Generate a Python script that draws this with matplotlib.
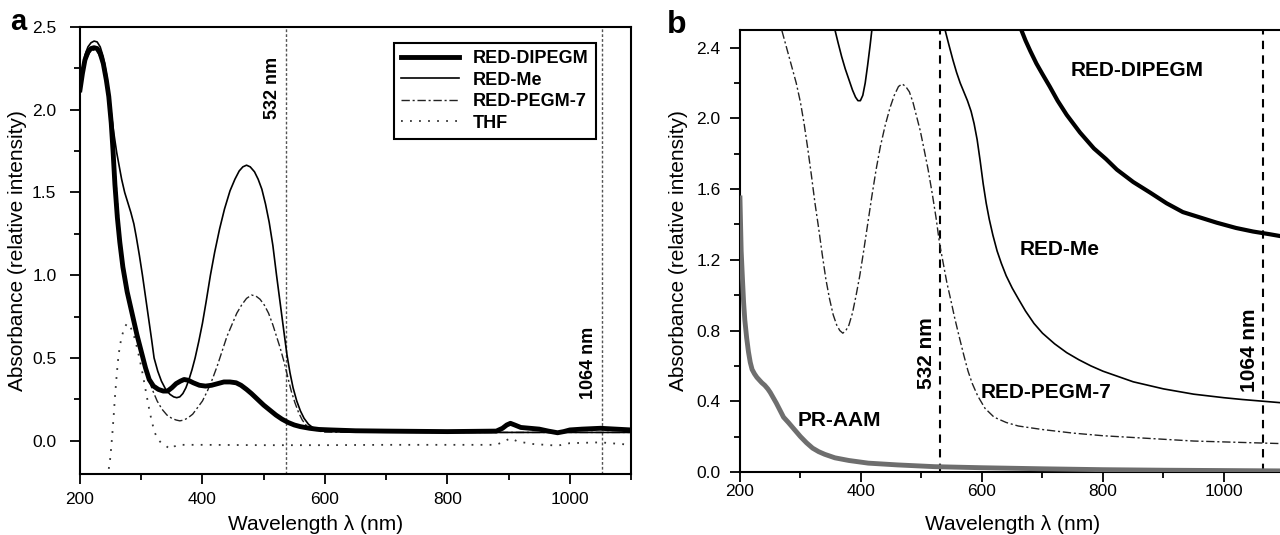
import numpy as np
import matplotlib
matplotlib.use('Agg')
import matplotlib.pyplot as plt
from matplotlib.ticker import MultipleLocator

plt.rcParams['font.family'] = ['Liberation Sans', 'DejaVu Sans']

# ---- panel a data (wavelength nm, absorbance) ----
a_dip_x = [200, 204, 208, 213, 218, 223, 228, 233, 238, 243, 247, 251, 254, 257, 261, 265, 270, 277,
           285, 293, 300, 307, 313, 320, 328, 336, 343, 350, 357, 364, 370, 377, 385, 395, 405, 415,
           425, 435, 445, 455, 463, 472, 480, 490, 500, 510, 520, 530, 540, 550, 560, 575, 590, 610,
           650, 700, 800, 880, 890, 897, 903, 910, 920, 935, 950, 965, 980, 990, 1000, 1020, 1050,
           1075, 1100]
a_dip_y = [2.12, 2.22, 2.30, 2.35, 2.37, 2.375, 2.37, 2.34, 2.28, 2.18, 2.08, 1.92, 1.75, 1.55, 1.35,
           1.2, 1.05, 0.9, 0.77, 0.64, 0.54, 0.44, 0.37, 0.33, 0.31, 0.30, 0.30, 0.32, 0.345, 0.36,
           0.37, 0.365, 0.35, 0.335, 0.33, 0.335, 0.345, 0.355, 0.355, 0.35, 0.335, 0.31, 0.285, 0.25,
           0.215, 0.185, 0.155, 0.13, 0.11, 0.095, 0.085, 0.075, 0.068, 0.065, 0.06, 0.058, 0.055,
           0.058, 0.075, 0.095, 0.105, 0.095, 0.08, 0.075, 0.07, 0.058, 0.048, 0.055, 0.065, 0.07,
           0.075, 0.07, 0.065]

a_me_x = [200, 204, 208, 213, 218, 223, 228, 233, 238, 243, 248, 252, 256, 260, 264, 268, 273, 278,
          283, 288, 292, 297, 302, 307, 312, 317, 321, 327, 333, 340, 347, 353, 358, 363, 368, 373,
          378, 383, 388, 394, 400, 406, 413, 420, 428, 436, 445, 453, 460, 466, 472, 478, 485, 491,
          497, 503, 509, 515, 521, 527, 533, 538, 543, 548, 554, 560, 566, 573, 580, 590, 600, 650,
          800, 1100]
a_me_y = [2.14, 2.25, 2.33, 2.38, 2.405, 2.415, 2.41, 2.38, 2.32, 2.22, 2.08, 1.95, 1.84, 1.74, 1.66,
          1.58, 1.5, 1.44, 1.38, 1.31, 1.23, 1.12, 1.0, 0.87, 0.74, 0.61, 0.5, 0.42, 0.36, 0.31, 0.28,
          0.265, 0.26, 0.265, 0.285, 0.32, 0.37, 0.43, 0.5, 0.6, 0.71, 0.84, 1.0, 1.14, 1.28, 1.4,
          1.51, 1.58, 1.63, 1.655, 1.665, 1.655, 1.625, 1.58, 1.52, 1.43, 1.32, 1.18, 1.0, 0.83, 0.66,
          0.52, 0.41, 0.32, 0.24, 0.18, 0.135, 0.1, 0.08, 0.065, 0.058, 0.052, 0.05, 0.05]

a_pegm_x = [200, 208, 218, 228, 238, 246, 252, 258, 264, 270, 278, 286, 294, 302, 310, 318, 326, 334,
            342, 350, 357, 363, 370, 377, 384, 392, 400, 408, 416, 424, 432, 440, 448, 456, 464, 472,
            480, 487, 494, 501, 508, 515, 521, 527, 533, 539, 545, 551, 557, 563, 570, 578, 590, 600,
            800, 1100]
a_pegm_y = [2.12, 2.29, 2.36, 2.36, 2.27, 2.1, 1.9, 1.6, 1.3, 1.06, 0.88, 0.74, 0.62, 0.5, 0.4, 0.31,
            0.24, 0.19, 0.155, 0.135, 0.125, 0.12, 0.125, 0.14, 0.16, 0.2, 0.24, 0.3, 0.37, 0.45,
            0.54, 0.63, 0.7, 0.77, 0.82, 0.86, 0.88, 0.875, 0.855, 0.82, 0.77, 0.7, 0.63, 0.56, 0.48,
            0.39, 0.3, 0.23, 0.17, 0.125, 0.09, 0.07, 0.058, 0.052, 0.05, 0.05]

a_thf_x = [247, 249, 251, 253, 255, 257, 260, 263, 267, 272, 277, 282, 287, 292, 297, 302, 307, 312,
           317, 322, 327, 333, 340, 345, 349, 354, 360, 400, 500, 600, 700, 800, 880, 895, 903, 915,
           940, 960, 980, 1000, 1050, 1100]
a_thf_y = [-0.17, -0.12, -0.04, 0.05, 0.15, 0.26, 0.4, 0.52, 0.61, 0.68, 0.71, 0.69, 0.65, 0.58, 0.5,
           0.41, 0.31, 0.21, 0.12, 0.05, 0.01, -0.015, -0.03, -0.045, -0.05, -0.035, -0.025, -0.025,
           -0.027, -0.027, -0.025, -0.025, -0.025, 0.0, 0.015, -0.005, -0.02, -0.025, -0.03, -0.015,
           -0.01, -0.025]

a_lines = [536, 1053]

# ---- panel b data ----
b_me_x = [352, 357, 362, 368, 374, 380, 386, 391, 395, 399, 403, 407, 411, 415, 418, 421, 532, 539,
          545, 552, 558, 564, 570, 576, 582, 587, 592, 597, 602, 607, 612, 618, 625, 632, 640, 650,
          660, 672, 686, 700, 720, 740, 760, 780, 800, 825, 850, 875, 900, 925, 950, 975, 1000, 1030,
          1065, 1100]
b_me_y = [2.7, 2.5, 2.43, 2.35, 2.28, 2.22, 2.16, 2.12, 2.10, 2.10, 2.13, 2.2, 2.3, 2.41, 2.5, 2.7,
          2.7, 2.5, 2.42, 2.33, 2.26, 2.2, 2.15, 2.1, 2.04, 1.97, 1.88, 1.76, 1.63, 1.52, 1.43, 1.34,
          1.25, 1.18, 1.11, 1.04, 0.98, 0.91, 0.84, 0.785, 0.725, 0.675, 0.635, 0.6, 0.57, 0.54, 0.51,
          0.49, 0.47, 0.455, 0.44, 0.43, 0.42, 0.41, 0.4, 0.39]

b_pegm_x = [262, 269, 277, 285, 293, 300, 306, 312, 318, 324, 330, 336, 342, 348, 354, 360, 365, 370,
            375, 380, 386, 392, 398, 404, 411, 418, 425, 432, 440, 448, 455, 462, 468, 474, 480, 486,
            492, 498, 504, 511, 518, 524, 530, 536, 542, 548, 555, 562, 570, 577, 584, 593, 605, 620,
            640, 660, 700, 750, 800, 850, 900, 950, 1000, 1050, 1100]
b_pegm_y = [2.7, 2.5, 2.4, 2.3, 2.2, 2.09, 1.97, 1.83, 1.68, 1.52, 1.38, 1.23, 1.09, 0.98, 0.89, 0.83,
            0.8, 0.785, 0.8, 0.83, 0.9, 1.0, 1.11, 1.24, 1.4, 1.56, 1.71, 1.84, 1.96, 2.06, 2.13, 2.18,
            2.195, 2.18, 2.15, 2.09, 2.01, 1.93, 1.83, 1.71, 1.57, 1.44, 1.29, 1.18, 1.07, 0.98, 0.87,
            0.77, 0.66, 0.57, 0.5, 0.43, 0.36, 0.31, 0.28, 0.26, 0.24, 0.22, 0.205, 0.195, 0.185,
            0.175, 0.17, 0.165, 0.16]

b_dip_x = [660, 665, 672, 680, 690, 700, 712, 725, 740, 762, 785, 805, 823, 850, 878, 905, 932, 960,
           988, 1020, 1048, 1075, 1100]
b_dip_y = [2.55, 2.5, 2.44, 2.38, 2.31, 2.25, 2.18, 2.1, 2.02, 1.92, 1.83, 1.77, 1.71, 1.64, 1.58,
           1.52, 1.47, 1.44, 1.41, 1.38, 1.36, 1.345, 1.33]

b_aam_x = [200, 201, 202, 204, 206, 208, 211, 214, 217, 220, 224, 228, 232, 236, 241, 246, 250, 255,
           260, 266, 272, 280, 290, 300, 310, 320, 330, 340, 357, 380, 412, 460, 522, 600, 700, 800,
           900, 1000, 1100]
b_aam_y = [1.55, 1.4, 1.25, 1.1, 0.96, 0.86, 0.76, 0.68, 0.62, 0.58, 0.555, 0.535, 0.52, 0.505, 0.49,
           0.47, 0.45, 0.42, 0.39, 0.35, 0.31, 0.28, 0.24, 0.2, 0.165, 0.135, 0.115, 0.1, 0.08, 0.065,
           0.05, 0.04, 0.03, 0.024, 0.018, 0.013, 0.01, 0.008, 0.006]

b_lines = [530, 1065]

fig = plt.figure(figsize=(12.8, 5.35), dpi=100)

# ---------------- panel a ----------------
ax = fig.add_axes([0.0625, 0.1144, 0.4305, 0.8351])
for xv in a_lines:
    ax.axvline(xv, color='#555555', lw=1, ls=(0, (2, 1.5)), zorder=1)
ax.plot(a_thf_x, a_thf_y, color='#333333', lw=1.3, ls=(0, (1, 4)), label='THF', zorder=2)
ax.plot(a_pegm_x, a_pegm_y, color='#222222', lw=1, ls=(0, (6, 2, 1.5, 2)), label='RED-PEGM-7', zorder=3)
ax.plot(a_me_x, a_me_y, color='black', lw=1.2, label='RED-Me', zorder=3)
ax.plot(a_dip_x, a_dip_y, color='black', lw=3.5, label='RED-DIPEGM', zorder=4)

ax.set_xlim(200, 1100)
ax.set_ylim(-0.2, 2.5)
ax.xaxis.set_major_locator(MultipleLocator(200))
ax.xaxis.set_minor_locator(MultipleLocator(100))
ax.yaxis.set_major_locator(MultipleLocator(0.5))
ax.yaxis.set_minor_locator(MultipleLocator(0.25))
ax.yaxis.set_major_formatter(plt.FormatStrFormatter('%.1f'))
ax.tick_params(direction='out', length=7, width=1.3, labelsize=12.5)
ax.tick_params(axis='y', pad=10)
ax.tick_params(axis='x', pad=6)
ax.tick_params(which='minor', direction='out', length=4, width=1.3)
for s in ax.spines.values():
    s.set_linewidth(1.5)
ax.set_xlabel('Wavelength λ (nm)', fontsize=15)
ax.set_ylabel('Absorbance (relative intensity)', fontsize=15)
ax.xaxis.set_label_coords(0.428, -0.092)
ax.yaxis.set_label_coords(-0.096, 0.5)

ax.text(515, 2.13, '532 nm', rotation=90, ha='center', va='center', fontsize=13, fontweight='bold')
ax.text(1030, 0.47, '1064 nm', rotation=90, ha='center', va='center', fontsize=13, fontweight='bold')

h, l = ax.get_legend_handles_labels()
order = [3, 2, 1, 0]
leg = ax.legend([h[i] for i in order], [l[i] for i in order], loc='upper right',
                bbox_to_anchor=(0.9365, 0.9642), borderaxespad=0, fancybox=False,
                framealpha=1, edgecolor='black', handlelength=3.2, labelspacing=0.25,
                prop={'weight': 'bold', 'size': 13})
leg.get_frame().set_linewidth(1.5)

fig.text(0.014, 0.959, 'a', fontsize=21, fontweight='bold', ha='center', va='center')

# ---------------- panel b ----------------
bx = fig.add_axes([0.5781, 0.1178, 0.4254, 0.8262])
for xv in b_lines:
    bx.axvline(xv, color='black', lw=1.5, ls=(0, (4, 3)), zorder=1)
bx.plot(b_aam_x, b_aam_y, color='#6e6e6e', lw=3.5, zorder=3)
bx.plot(b_pegm_x, b_pegm_y, color='#222222', lw=1, ls=(0, (6, 2, 1.5, 2)), zorder=3)
bx.plot(b_me_x, b_me_y, color='black', lw=1.2, zorder=3)
bx.plot(b_dip_x, b_dip_y, color='black', lw=3, zorder=4)

bx.set_xlim(200, 1100)
bx.set_ylim(0, 2.5)
bx.xaxis.set_major_locator(MultipleLocator(200))
bx.xaxis.set_minor_locator(MultipleLocator(100))
bx.yaxis.set_major_locator(MultipleLocator(0.4))
bx.yaxis.set_minor_locator(MultipleLocator(0.2))
bx.yaxis.set_major_formatter(plt.FormatStrFormatter('%.1f'))
bx.tick_params(direction='out', length=7, width=1.3, labelsize=12.5)
bx.tick_params(axis='y', pad=7)
bx.tick_params(axis='x', pad=2)
bx.tick_params(which='minor', direction='out', length=4, width=1.3)
for s in bx.spines.values():
    s.set_linewidth(1.5)
bx.set_xlabel('Wavelength λ (nm)', fontsize=15)
bx.set_ylabel('Absorbance (relative intensity)', fontsize=15)
bx.xaxis.set_label_coords(0.5, -0.097)
bx.yaxis.set_label_coords(-0.0955, 0.5)

bx.text(509, 0.67, '532 nm', rotation=90, ha='center', va='center', fontsize=15, fontweight='bold')
bx.text(1043, 0.69, '1064 nm', rotation=90, ha='center', va='center', fontsize=15, fontweight='bold')
bx.text(856, 2.27, 'RED-DIPEGM', ha='center', va='center', fontsize=15, fontweight='bold')
bx.text(729, 1.26, 'RED-Me', ha='center', va='center', fontsize=15, fontweight='bold')
bx.text(706, 0.45, 'RED-PEGM-7', ha='center', va='center', fontsize=15, fontweight='bold')
bx.text(365, 0.29, 'PR-AAM', ha='center', va='center', fontsize=15, fontweight='bold')

fig.text(0.529, 0.953, 'b', fontsize=23, fontweight='bold', ha='center', va='center')

fig.savefig('out.png', dpi=100)
